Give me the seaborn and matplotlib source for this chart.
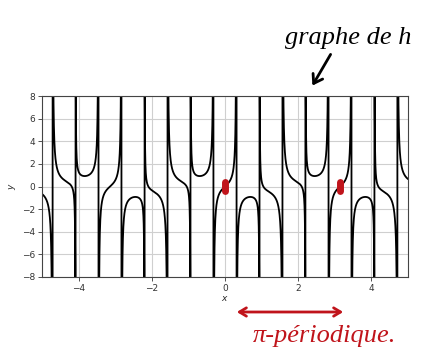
import numpy as np
import pandas as pd
import matplotlib
matplotlib.use("Agg")
import matplotlib.pyplot as plt
import seaborn as sns

# h(x) = sin(3x) / cos(5x)  -- function identified from the graph (pi-periodic)
num_freq = 3
den_freq = 5
x_range = [-5, 5]
y_range = [-8, 8]
x_ticks = [-4, -2, 0, 2, 4]
y_ticks = [-8, -6, -4, -2, 0, 2, 4, 6, 8]
marked_points_x = [0.0, np.pi]
marked_points_y = [0.0, 0.0]
title_note = "graphe de h"
period_note = "π-périodique."

xs = np.linspace(x_range[0], x_range[1], 4000)
ys = np.sin(num_freq * xs) / np.cos(den_freq * xs)
df = pd.DataFrame({"x": xs, "y": ys})

sns.set_theme(style="ticks")
plt.rcParams['font.family'] = ['DejaVu Sans']

fig = plt.figure(figsize=(4.29, 3.54), dpi=100)
ax = fig.add_axes([42 / 429, 1 - 277 / 354, (408 - 42) / 429, (277 - 96) / 354])

sns.lineplot(data=df, x="x", y="y", ax=ax, color="black", linewidth=1.3,
             estimator=None, sort=False)

ax.set_xlim(*x_range)
ax.set_ylim(*y_range)
ax.set_xticks(x_ticks)
ax.set_yticks(y_ticks)
ax.set_xticklabels([f"{t}".replace("-", "\u2212") for t in x_ticks])
ax.set_yticklabels([f"{t}".replace("-", "\u2212") for t in y_ticks])
ax.tick_params(labelsize=6.5, length=3, width=0.6, colors="#333333", pad=2)
ax.grid(True, color="#cfcfcf", linewidth=0.8)
for s in ax.spines.values():
    s.set_color("#444444")
    s.set_linewidth(0.8)
ax.set_xlabel("$x$", fontsize=6.5, labelpad=1)
ax.set_ylabel("$y$", fontsize=6.5, labelpad=3)

# red marks at the points (0,0) and (pi,0)
for px, py in zip(marked_points_x, marked_points_y):
    ax.plot([px, px], [py - 0.4, py + 0.4], color="#c0141b", linewidth=5,
            solid_capstyle="round", zorder=5)

# handwritten-style annotations
fig.text(348 / 429, 1 - 38 / 354, title_note, fontsize=19, color="black",
         ha="center", va="center", family=["Liberation Serif"], style="italic")
fig.add_artist(matplotlib.patches.FancyArrowPatch(
    (332 / 429, 1 - 52 / 354), (311 / 429, 1 - 88 / 354),
    transform=fig.transFigure, arrowstyle="->,head_length=6,head_width=4",
    color="black", linewidth=2))

fig.add_artist(matplotlib.patches.FancyArrowPatch(
    (234 / 429, 1 - 312 / 354), (346 / 429, 1 - 312 / 354),
    transform=fig.transFigure, arrowstyle="<->,head_length=5,head_width=3",
    color="#c0141b", linewidth=2))
fig.text(325 / 429, 1 - 336 / 354, period_note, fontsize=19, color="#c0141b",
         ha="center", va="center", family=["Liberation Serif"], style="italic")

fig.savefig("out.png", dpi=100)
